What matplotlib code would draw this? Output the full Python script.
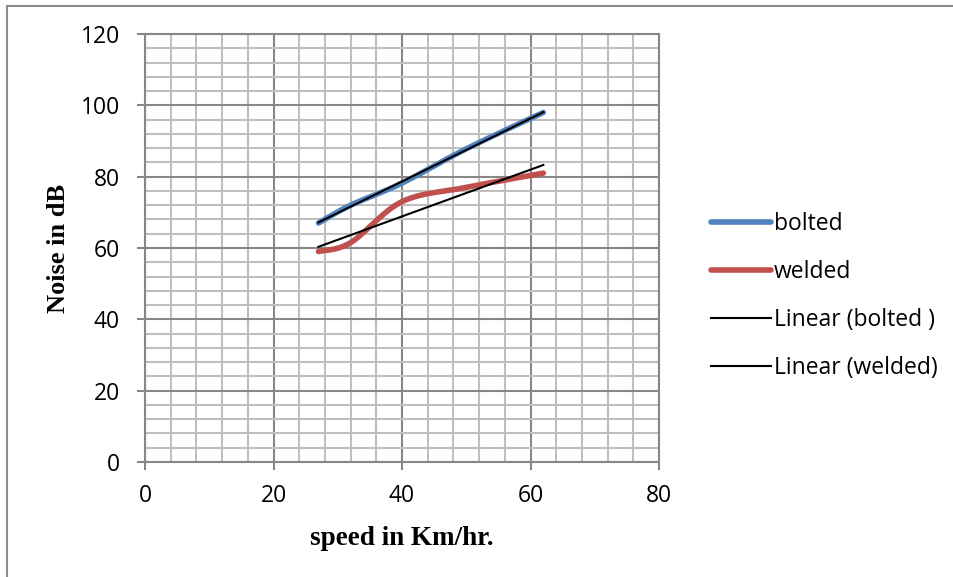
import numpy as np
import matplotlib
matplotlib.use("Agg")
import matplotlib.pyplot as plt
from matplotlib.lines import Line2D
from matplotlib.ticker import MultipleLocator

speed = [27, 32, 40, 50, 62]
bolted = [67, 72, 78.2, 87.8, 98]
welded = [59, 61.5, 73, 77, 81]
x_ticks = [0, 20, 40, 60, 80]
y_ticks = [0, 20, 40, 60, 80, 100, 120]
labels = ["bolted", "welded", "Linear (bolted )", "Linear (welded)"]


def smooth(x, y, n=40):
    x = np.asarray(x, float)
    y = np.asarray(y, float)
    P = np.column_stack([x, y])
    P = np.vstack([P[0], P, P[-1]])
    out = []
    for i in range(1, len(P) - 2):
        p0, p1, p2, p3 = P[i - 1], P[i], P[i + 1], P[i + 2]
        c1 = p1 + (p2 - p0) / 6.0
        c2 = p2 - (p3 - p1) / 6.0
        t = np.linspace(0, 1, n)[:, None]
        seg = ((1 - t) ** 3) * p1 + 3 * ((1 - t) ** 2) * t * c1 + 3 * (1 - t) * t ** 2 * c2 + t ** 3 * p2
        out.append(seg if i == 1 else seg[1:])
    s = np.vstack(out)
    return s[:, 0], s[:, 1]


fig = plt.figure(figsize=(9.54, 5.77), dpi=100)
ax = fig.add_axes([145 / 954, 115 / 577, (659 - 145) / 954, (462 - 34) / 577])

blue = "#4F81BD"
red = "#C0504D"

ax.set_xlim(0, 80)
ax.set_ylim(0, 120)
ax.xaxis.set_major_locator(MultipleLocator(20))
ax.xaxis.set_minor_locator(MultipleLocator(4))
ax.yaxis.set_major_locator(MultipleLocator(20))
ax.yaxis.set_minor_locator(MultipleLocator(4))
ax.set_xticks(x_ticks)
ax.set_yticks(y_ticks)
ax.grid(which="minor", color="#bfbfbf", linewidth=1.5, zorder=0)
ax.grid(which="major", color="#878787", linewidth=1.5, zorder=0)
ax.set_axisbelow(True)
for s in ax.spines.values():
    s.set_color("#878787")
    s.set_linewidth(1.5)
ax.tick_params(which="major", length=6, width=1.5, color="#878787", labelsize=16.5)
ax.tick_params(axis="y", which="major", pad=12)
ax.tick_params(axis="x", which="major", pad=10)
ax.tick_params(which="minor", length=0)
for lab in ax.get_xticklabels() + ax.get_yticklabels():
    lab.set_family("Open Sans")

bx, by = smooth(speed, bolted)
wx, wy = smooth(speed, welded)
ax.plot(bx, by, color=blue, lw=4.0, solid_capstyle="round", zorder=3)
ax.plot(wx, wy, color=red, lw=4.0, solid_capstyle="round", zorder=3)

sx = np.array([speed[0], speed[-1]], float)
pb = np.polyfit(speed, bolted, 1)
pw = np.polyfit(speed, welded, 1)
ax.plot(sx, np.polyval(pb, sx), color="black", lw=1.5, zorder=4)
ax.plot(sx, np.polyval(pw, sx), color="black", lw=1.5, zorder=4)

ax.set_xlabel("speed in Km/hr.", family="Liberation Serif", fontweight="bold", fontsize=19.5, labelpad=13)
ax.set_ylabel("Noise in dB", family="Liberation Serif", fontweight="bold", fontsize=19, labelpad=8)

handles = [
    Line2D([], [], color=blue, lw=4.0, solid_capstyle="round"),
    Line2D([], [], color=red, lw=4.0, solid_capstyle="round"),
    Line2D([], [], color="black", lw=1.5),
    Line2D([], [], color="black", lw=1.5),
]
leg = fig.legend(handles, labels, loc="center left", bbox_to_anchor=(711 / 954, 1 - 296 / 577),
                 frameon=False, handlelength=2.6, handletextpad=0.15, labelspacing=1.05,
                 borderaxespad=0, borderpad=0,
                 prop={"family": "Open Sans", "size": 16.5})

# outer chart border (top and left visible)
fig.add_artist(Line2D([7.5 / 954, 7.5 / 954], [0, 1 - 5.5 / 577], color="#8c8c8c", lw=1.5))
fig.add_artist(Line2D([7.5 / 954, 953 / 954], [1 - 5.5 / 577, 1 - 5.5 / 577], color="#8c8c8c", lw=1.5))

fig.savefig("out.png", dpi=100)
